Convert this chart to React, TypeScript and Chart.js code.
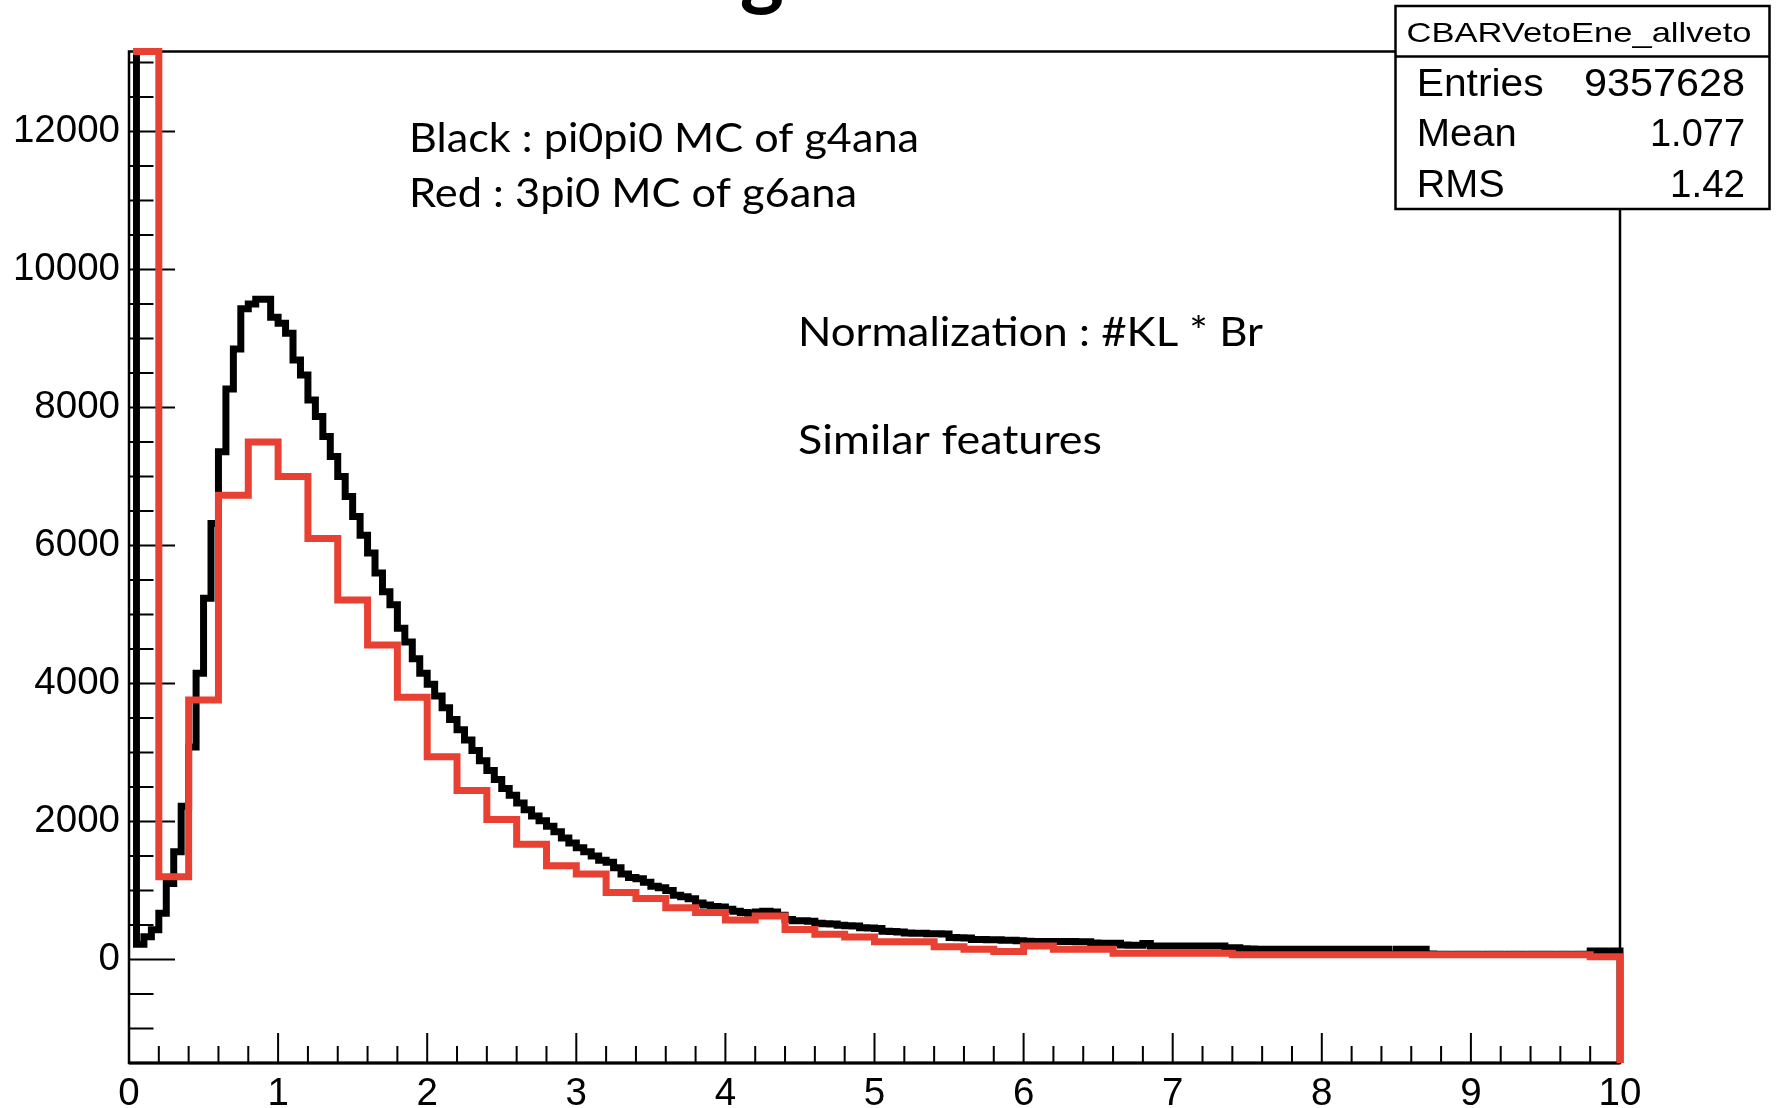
import React, { useEffect, useRef } from "react";
import { Chart, registerables } from "chart.js";

Chart.register(...registerables);

const WIDTH = 1778;
const HEIGHT = 1108;

// Axis ranges (ROOT frame)
const X_MIN = 0;
const X_MAX = 10;
const Y_MIN = -1500;
const Y_MAX = 13160;

// CBAR veto energy, pi0pi0 MC (g4ana): 200 bins of 0.05
const blackCounts = [
  14800, 220, 330, 430, 670, 1100, 1560, 2220, 3080, 4150,
  5235, 6320, 7360, 8270, 8850, 9430, 9500, 9570, 9570, 9310,
  9220, 9075, 8690, 8470, 8110, 7870, 7580, 7290, 7000, 6710,
  6420, 6150, 5890, 5600, 5330, 5140, 4800, 4600, 4360, 4150,
  3990, 3820, 3650, 3480, 3330, 3180, 3030, 2880, 2740, 2610,
  2480, 2380, 2270, 2170, 2080, 2010, 1930, 1850, 1760, 1690,
  1620, 1560, 1500, 1440, 1410, 1330, 1240, 1190, 1170, 1120,
  1060, 1040, 1000, 930, 910, 880, 820, 790, 770, 760,
  730, 700, 680, 670, 690, 700, 690, 640, 580, 560,
  560, 555, 525, 520, 515, 495, 490, 485, 460, 455,
  450, 410, 405, 400, 385, 380, 380, 375, 375, 370,
  320, 315, 310, 290, 290, 285, 285, 280, 280, 270,
  265, 262, 262, 260, 260, 262, 262, 258, 258, 240,
  236, 236, 236, 210, 205, 205, 233, 195, 195, 195,
  195, 195, 195, 195, 195, 195, 195, 170, 170, 155,
  152, 150, 150, 150, 150, 150, 150, 150, 150, 150,
  150, 150, 150, 150, 150, 150, 150, 150, 150, 75,
  150, 150, 150, 150, 78, 75, 76, 74, 75, 77,
  75, 74, 76, 75, 73, 75, 76, 74, 75, 75,
  76, 74, 75, 73, 75, 76, 122, 122, 120, 122,
];

// 3pi0 MC (g6ana): 50 bins of 0.2
const redCounts = [
  14800, 1200, 3760, 6730, 7500, 7000, 6100, 5210, 4560, 3800,
  2940, 2450, 2030, 1670, 1360, 1240, 970, 885, 750, 680,
  571, 630, 435, 365, 325, 257, 257, 184, 150, 117,
  195, 148, 148, 92, 92, 92, 92, 70, 70, 70,
  70, 70, 70, 70, 70, 70, 70, 70, 70, 40,
];

const xTickValues = [0, 1, 2, 3, 4, 5, 6, 7, 8, 9, 10];
const yTickValues = [0, 2000, 4000, 6000, 8000, 10000, 12000];
const X_MINOR_STEP = 0.2;
const Y_MINOR_STEP = 500;

const legendLines = ["Black : pi0pi0 MC of g4ana", "Red : 3pi0 MC of g6ana"];
const noteLines = ["Normalization : #KL * Br", "Similar features"];
const titleFragment = "g";

const statsTitle = "CBARVetoEne_allveto";
const statsLabels = ["Entries", "Mean", "RMS"];
const statsValues = ["9357628", "1.077", "1.42"];

const RED = "rgb(232, 64, 50)";
const TICK_FONT = "Liberation Sans";
const NOTE_FONT = "Lato";

// Histogram outline in ROOT style: starts and ends on the frame bottom,
// contents above the frame are drawn along its top edge.
function outline(counts: number[]) {
  const w = (X_MAX - X_MIN) / counts.length;
  const pts: { x: number; y: number }[] = [{ x: X_MIN, y: Y_MIN }];
  counts.forEach((c, i) => pts.push({ x: X_MIN + (i + 1) * w, y: Math.min(c, Y_MAX) }));
  pts.push({ x: X_MAX, y: Y_MIN });
  return pts;
}

function fitText(
  ctx: CanvasRenderingContext2D,
  text: string,
  x: number,
  baseline: number,
  font: string,
  width: number,
  align: CanvasTextAlign
) {
  ctx.save();
  ctx.font = font;
  const natural = ctx.measureText(text).width || 1;
  ctx.translate(x, baseline);
  ctx.scale(width / natural, 1);
  ctx.textAlign = align;
  ctx.textBaseline = "alphabetic";
  ctx.fillText(text, 0, 0);
  ctx.restore();
}

const framePlugin = {
  id: "rootFrame",
  beforeDatasetsDraw(chart: any) {
    const { ctx, chartArea: a } = chart;
    const xs = chart.scales.x;
    const ys = chart.scales.y;
    ctx.save();
    ctx.strokeStyle = "#000";
    ctx.lineCap = "butt";
    ctx.lineWidth = 2;
    ctx.beginPath();
    const nx = Math.round((X_MAX - X_MIN) / X_MINOR_STEP);
    for (let i = 0; i <= nx; i++) {
      const v = X_MIN + i * X_MINOR_STEP;
      const major = xTickValues.some((t) => Math.abs(t - v) < 1e-6);
      const px = xs.getPixelForValue(v);
      ctx.moveTo(px, a.bottom);
      ctx.lineTo(px, a.bottom - (major ? 30 : 17));
    }
    for (let v = Math.ceil(Y_MIN / Y_MINOR_STEP) * Y_MINOR_STEP; v <= Y_MAX; v += Y_MINOR_STEP) {
      const major = yTickValues.includes(v);
      const py = ys.getPixelForValue(v);
      ctx.moveTo(a.left, py);
      ctx.lineTo(a.left + (major ? 46 : 24.5), py);
    }
    ctx.stroke();

    ctx.lineWidth = 2.5;
    ctx.strokeRect(a.left, a.top, a.right - a.left, a.bottom - a.top);
    ctx.lineWidth = 3;
    ctx.beginPath();
    ctx.moveTo(a.left, a.bottom);
    ctx.lineTo(a.right, a.bottom);
    ctx.stroke();
    ctx.restore();
  },
};

const textPlugin = {
  id: "rootText",
  afterDraw(chart: any) {
    const ctx: CanvasRenderingContext2D = chart.ctx;
    ctx.save();
    ctx.fillStyle = "#000";

    // remnant of the page title above the pad
    ctx.font = `bold 84px ${NOTE_FONT}`;
    ctx.textAlign = "center";
    ctx.textBaseline = "alphabetic";
    ctx.fillText(titleFragment, 762, -1);

    // annotations
    const noteFont = `40px ${NOTE_FONT}`;
    fitText(ctx, legendLines[0], 409, 151.7, noteFont, 510, "left");
    fitText(ctx, legendLines[1], 409, 206.7, noteFont, 448, "left");
    fitText(ctx, noteLines[0], 798, 346, noteFont, 465, "left");
    fitText(ctx, noteLines[1], 798, 454, noteFont, 304, "left");

    // statistics box
    const bx = 1395.5, by = 6, bw = 374, bh = 203;
    ctx.fillStyle = "#fff";
    ctx.fillRect(bx, by, bw, bh);
    ctx.strokeStyle = "#000";
    ctx.lineWidth = 2.5;
    ctx.strokeRect(bx, by, bw, bh);
    ctx.beginPath();
    ctx.moveTo(bx, 56.5);
    ctx.lineTo(bx + bw, 56.5);
    ctx.stroke();

    ctx.fillStyle = "#000";
    fitText(ctx, statsTitle, 1579, 42, `28px ${TICK_FONT}`, 345, "center");
    const rowBase = [96, 146, 197];
    const labelW = [127, 100, 88];
    const valueW = [161, 95, 75];
    statsLabels.forEach((lab, i) => {
      fitText(ctx, lab, 1416.7, rowBase[i], `39px ${TICK_FONT}`, labelW[i], "left");
      fitText(ctx, statsValues[i], 1745, rowBase[i], `39px ${TICK_FONT}`, valueW[i], "right");
    });
    ctx.restore();
  },
};

export default function App() {
  const canvasRef = useRef<HTMLCanvasElement | null>(null);

  useEffect(() => {
    const canvas = canvasRef.current;
    if (!canvas) return;
    const tickFont = { family: TICK_FONT, size: 38.5 };
    const histClip = { left: -4, top: 5, right: 5, bottom: 0 };

    const chart = new Chart(canvas, {
      type: "line",
      data: {
        datasets: [
          {
            label: "3pi0 MC of g6ana",
            data: outline(redCounts),
            borderColor: RED,
            borderWidth: 7,
            stepped: "after",
            pointRadius: 0,
            fill: false,
            tension: 0,
            order: 0,
            clip: histClip,
          } as any,
          {
            label: "pi0pi0 MC of g4ana",
            data: outline(blackCounts),
            borderColor: "#000",
            borderWidth: 7,
            stepped: "after",
            pointRadius: 0,
            fill: false,
            tension: 0,
            order: 1,
            clip: histClip,
          } as any,
        ],
      },
      options: {
        animation: false,
        responsive: false,
        devicePixelRatio: 1,
        events: [],
        layout: { padding: { left: 0, top: 51.5, right: 158, bottom: 0 } },
        plugins: {
          legend: { display: false },
          tooltip: { enabled: false },
          title: { display: false },
        },
        scales: {
          x: {
            type: "linear",
            min: X_MIN,
            max: X_MAX,
            grid: { display: false, drawTicks: false },
            border: { display: false },
            ticks: {
              font: tickFont,
              color: "#000",
              padding: 8,
              autoSkip: false,
              maxRotation: 0,
              callback: (v: any) => String(v),
            },
            afterBuildTicks: (s: any) => {
              s.ticks = xTickValues.map((value) => ({ value }));
            },
            afterFit: (s: any) => {
              s.height = HEIGHT - 1063;
            },
          },
          y: {
            type: "linear",
            min: Y_MIN,
            max: Y_MAX,
            grid: { display: false, drawTicks: false },
            border: { display: false },
            ticks: {
              font: tickFont,
              color: "#000",
              padding: 9,
              autoSkip: false,
              callback: (v: any) => String(v),
            },
            afterBuildTicks: (s: any) => {
              s.ticks = yTickValues.map((value) => ({ value }));
            },
            afterFit: (s: any) => {
              s.width = 129;
            },
          },
        },
      },
      plugins: [framePlugin, textPlugin],
    });

    let alive = true;
    if ((document as any).fonts) {
      Promise.all([
        document.fonts.load(`38px "${TICK_FONT}"`),
        document.fonts.load(`40px "${NOTE_FONT}"`),
        document.fonts.load(`bold 84px "${NOTE_FONT}"`),
      ]).then(() => {
        if (alive) chart.update();
      });
    }

    return () => {
      alive = false;
      chart.destroy();
    };
  }, []);

  return (
    <div
      style={{
        position: "fixed",
        left: 0,
        top: 0,
        width: WIDTH,
        height: HEIGHT,
        background: "#fff",
      }}
    >
      <canvas ref={canvasRef} width={WIDTH} height={HEIGHT} style={{ display: "block" }} />
    </div>
  );
}
